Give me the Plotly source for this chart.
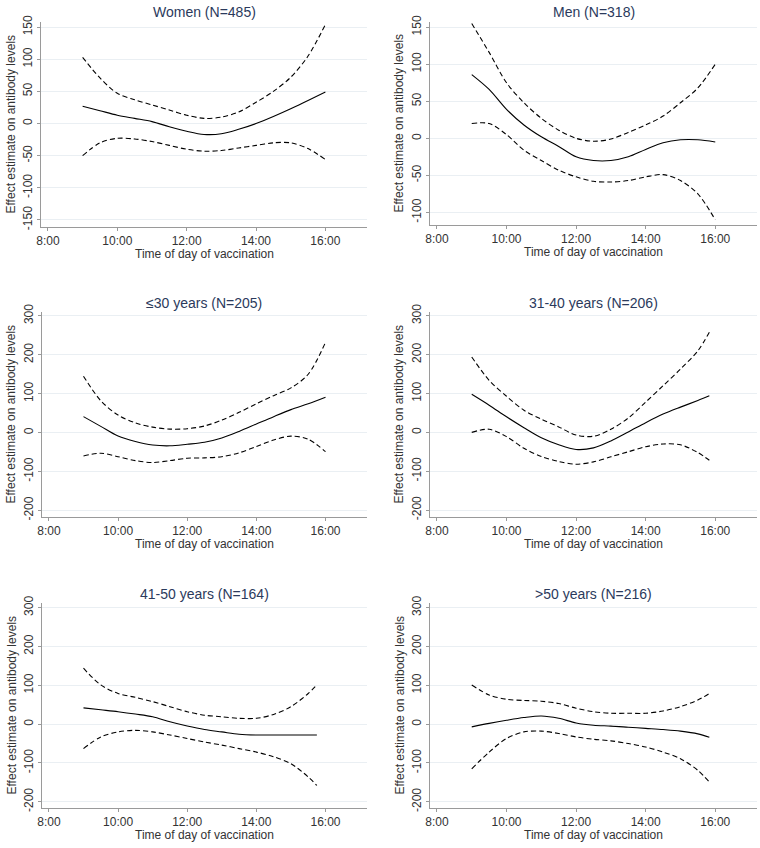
import plotly.graph_objects as go

# ---------------- data ----------------
titles = ["Women (N=485)", "Men (N=318)", "≤30 years (N=205)",
          "31-40 years (N=206)", "41-50 years (N=164)", ">50 years (N=216)"]

time_full = [9, 9.5, 10, 10.5, 11, 11.5, 12, 12.5, 13, 13.5, 14, 14.5, 15, 15.5, 16]
time_4 = [9, 9.5, 10, 10.5, 11, 11.5, 12, 12.5, 13, 13.5, 14, 14.5, 15, 15.5, 15.83]
time_5 = [9, 9.5, 10, 10.5, 11, 11.5, 12, 12.5, 13, 13.5, 14, 14.5, 15, 15.5, 15.75]
time_6 = [9, 9.5, 10, 10.5, 11, 11.5, 12, 12.5, 13, 13.5, 14, 14.5, 15, 15.5, 15.83]

women_est = [27, 20, 13, 8, 3, -5, -12, -17, -16, -9, 0, 11, 23, 36, 49]
women_up = [103, 71, 47, 37, 29, 21, 13, 8, 10, 18, 33, 50, 72, 105, 154]
women_lo = [-50, -30, -23, -24, -28, -34, -40, -43, -42, -38, -34, -30, -30, -39, -56]

men_est = [86, 66, 39, 18, 2, -11, -25, -30, -30, -25, -15, -6, -2, -2, -5]
men_up = [155, 116, 75, 48, 27, 11, 0, -4, -1, 8, 18, 30, 48, 68, 100]
men_lo = [20, 20, 5, -16, -30, -43, -52, -58, -59, -57, -52, -49, -57, -75, -110]

a30_est = [41, 16, -9, -23, -32, -34, -30, -25, -14, 3, 22, 41, 59, 74, 91]
a30_up = [145, 82, 45, 25, 14, 9, 10, 17, 32, 52, 74, 95, 115, 150, 232]
a30_lo = [-60, -53, -62, -72, -77, -72, -66, -65, -62, -52, -36, -19, -9, -17, -49]

a40_est = [98, 70, 40, 12, -14, -32, -44, -40, -22, 1, 25, 47, 65, 82, 94]
a40_up = [194, 134, 93, 57, 34, 14, -7, -10, 8, 37, 78, 120, 163, 210, 258]
a40_lo = [0, 8, -11, -41, -62, -75, -82, -76, -63, -50, -37, -30, -32, -52, -72]

a50_est = [42, 37, 32, 26, 19, 6, -5, -14, -20, -26, -28, -28, -28, -28, -28]
a50_up = [144, 101, 79, 69, 58, 45, 32, 23, 19, 15, 15, 25, 45, 79, 101]
a50_lo = [-63, -33, -20, -16, -20, -28, -37, -46, -54, -63, -72, -84, -102, -136, -158]

o50_est = [-7, 2, 10, 17, 21, 15, 3, -3, -5, -8, -11, -14, -18, -25, -34]
o50_up = [101, 75, 64, 61, 59, 53, 41, 32, 28, 28, 28, 34, 45, 62, 79]
o50_lo = [-115, -72, -37, -20, -18, -24, -33, -39, -43, -50, -59, -72, -89, -119, -149]

x_tickvals = [8, 10, 12, 14, 16]
x_ticktext = ["8:00", "10:00", "12:00", "14:00", "16:00"]
y_ticks_women = [-150, -100, -50, 0, 50, 100, 150]
y_ticks_men = [-100, -50, 0, 50, 100, 150]
y_ticks_age = [-200, -100, 0, 100, 200, 300]

panels = [
    (time_full, women_est, women_up, women_lo, [-161, 158], y_ticks_women),
    (time_full, men_est, men_up, men_lo, [-117, 157], y_ticks_men),
    (time_full, a30_est, a30_up, a30_lo, [-217, 310], y_ticks_age),
    (time_4, a40_est, a40_up, a40_lo, [-218, 310], y_ticks_age),
    (time_5, a50_est, a50_up, a50_lo, [-216, 312], y_ticks_age),
    (time_6, o50_est, o50_up, o50_lo, [-216, 312], y_ticks_age),
]

# ---------------- layout (pixel boxes) ----------------
W, H = 760, 848
boxes = [  # x0, x1, ytop, ybottom in pixels
    (41, 367, 22, 227), (430, 757, 22, 225),
    (42, 367, 312, 517), (430, 757, 312, 517),
    (42, 367, 603, 808), (430, 757, 603, 808),
]
title_y = [12, 12, 303, 303, 594, 594]


def px(v):
    return v / W


def py(v):
    return 1 - v / H


FONT = "Liberation Sans, Arial, sans-serif"
fig = go.Figure()
layout = dict(width=W, height=H, margin=dict(l=0, r=0, t=0, b=0, autoexpand=False),
              paper_bgcolor="white", plot_bgcolor="white", showlegend=False,
              font=dict(family=FONT, size=12, color="#333333"))
annotations = []

for i, (t, est, up, lo, yr, yt) in enumerate(panels):
    n = i + 1
    xa = "x" if n == 1 else f"x{n}"
    ya = "y" if n == 1 else f"y{n}"
    for vals, dash in ((up, "5px,3px"), (lo, "5px,3px"), (est, "solid")):
        fig.add_trace(go.Scatter(x=t, y=vals, mode="lines", xaxis=xa, yaxis=ya,
                                 line=dict(color="black", width=1.1, dash=dash,
                                           shape="spline", smoothing=0.9),
                                 hoverinfo="skip"))
    x0, x1, yt0, yb0 = boxes[i]
    xd = [px(x0), px(x1)]
    yd = [py(yb0), py(yt0)]
    layout[f"xaxis{'' if n == 1 else n}"] = dict(
        domain=xd, range=[7.8, 17.2], anchor=ya, tickvals=x_tickvals, ticktext=x_ticktext,
        showline=True, linecolor="#9a9a9a", linewidth=1, ticks="outside", ticklen=3,
        tickcolor="#9a9a9a", showgrid=False, zeroline=False, automargin=False,
        tickfont=dict(size=12, color="#333333"))
    layout[f"yaxis{'' if n == 1 else n}"] = dict(
        domain=yd, range=yr, anchor=xa, tickvals=yt, ticktext=[str(v) for v in yt],
        tickangle=-90, automargin=False,
        showline=True, linecolor="#9a9a9a", linewidth=1, ticks="outside", ticklen=3,
        tickcolor="#9a9a9a", showgrid=True, gridcolor="#eaeff3", gridwidth=1,
        zeroline=False, tickfont=dict(size=12, color="#333333"))
    cx = px((x0 + x1) / 2)
    annotations.append(dict(text=titles[i], x=cx, y=py(title_y[i]), xref="paper", yref="paper",
                            xanchor="center", yanchor="middle", showarrow=False,
                            font=dict(size=14, color="#2b3a5c", family=FONT)))
    annotations.append(dict(text="Time of day of vaccination", x=cx, y=py(yb0 + 27),
                            xref="paper", yref="paper", xanchor="center", yanchor="middle",
                            showarrow=False, font=dict(size=12, color="#333333", family=FONT)))
    annotations.append(dict(text="Effect estimate on antibody levels", x=px(x0 - 31),
                            y=py((yt0 + yb0) / 2), xref="paper", yref="paper",
                            xanchor="center", yanchor="middle", textangle=-90, showarrow=False,
                            font=dict(size=12, color="#333333", family=FONT)))

layout["annotations"] = annotations
fig.update_layout(**layout)
fig.write_html("out.html", config={"displayModeBar": False},
               post_script="document.body.style.margin='0';document.body.style.padding='0';")
